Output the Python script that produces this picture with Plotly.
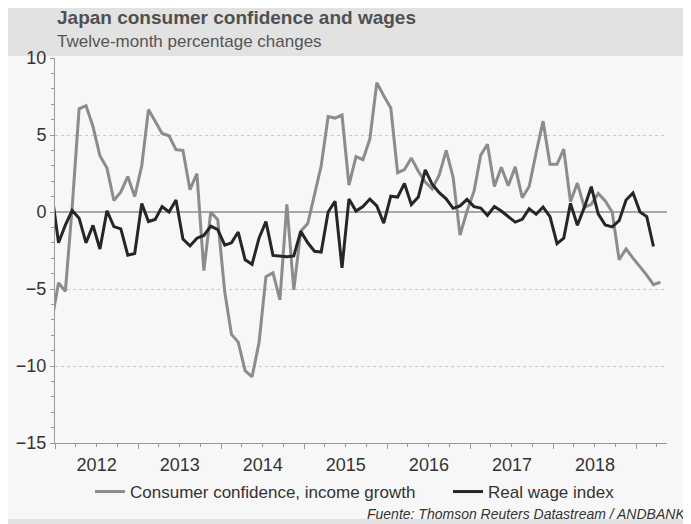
import pandas as pd
import plotly.graph_objects as go

# ---- data (monthly, Dec 2011 .. Apr 2019) ----
months = pd.date_range("2011-12-01", periods=89, freq="MS")

consumer_confidence = [
    -7.2, -4.6, -5.15, 0.3, 6.7, 6.9, 5.55, 3.65, 2.85, 0.75, 1.3, 2.3, 1.0,
    3.0, 6.65, 5.85, 5.1, 4.95, 4.05, 4.0, 1.45, 2.5, -3.8, 0.0, -0.5, -5.2,
    -7.95, -8.45, -10.3, -10.7, -8.5, -4.2, -3.95, -5.7, 0.5, -5.05, -1.25, -0.75,
    1.05, 3.0, 6.2, 6.1, 6.3, 1.75, 3.6, 3.4, 4.75, 8.4, 7.55, 6.75, 2.55,
    2.75, 3.5, 2.65, 1.95, 1.5, 2.4, 4.0, 2.25, -1.5, 0.05, 1.35, 3.7,
    4.4, 1.65, 2.9, 1.7, 2.93, 0.93, 1.66, 3.85, 5.9, 3.1, 3.1, 4.08,
    0.67, 1.88, 0.3, 0.5, 1.2, 0.72, 0.0, -3.1, -2.4, -3.0, -3.54, -4.1,
    -4.72, -4.55,
]

real_wage = [
    1.4, -2.0, -0.85, 0.1, -0.4, -2.0, -0.87, -2.4, 0.08, -0.95, -1.1, -2.8, -2.7,
    0.55, -0.62, -0.48, 0.35, 0.0, 0.78, -1.76, -2.2, -1.7, -1.52, -0.92, -1.15, -2.15,
    -2.0, -1.3, -3.1, -3.4, -1.7, -0.62, -2.82, -2.85, -2.9, -2.85, -1.26, -2.0,
    -2.55, -2.6, 0.0, 0.7, -3.62, 0.84, 0.06, 0.35, 0.84, 0.4, -0.72, 1.03, 0.97,
    1.85, 0.48, 0.97, 2.73, 1.8, 1.25, 0.86, 0.24, 0.4, 0.82, 0.35, 0.26,
    -0.22, 0.35, 0.06, -0.28, -0.66, -0.48, 0.22, -0.15, 0.32, -0.3, -2.05, -1.7,
    0.56, -0.86, 0.3, 1.64, -0.12, -0.84, -0.97, -0.56, 0.78, 1.23, 0.0, -0.3,
    -2.24,
]

series_names = ["Consumer confidence, income growth", "Real wage index"]
y_ticks = [10, 5, 0, -5, -10, -15]

title_text = "Japan consumer confidence and wages"
subtitle_text = "Twelve-month percentage changes"
source_text = "Fuente: Thomson Reuters Datastream / ANDBANK"

FONT = "Liberation Sans, Arial, sans-serif"
TXT = "#333333"

# the page body has an 8px margin, so the figure is drawn 8px in from the window corner
OFF = 8
W, H = 691 - OFF, 524 - OFF
# plot-area edges in window pixels
L, R, T, B = 55, 667, 58, 443
PW, PH = R - L, B - T


def px_x(x):
    return (x - L) / PW


def px_y(y):
    return (B - y) / PH


fig = go.Figure()
fig.add_trace(go.Scatter(
    x=months, y=consumer_confidence, name=series_names[0], mode="lines",
    line=dict(color="#8c8c8c", width=3),
    xperiod="M1", xperiodalignment="middle", legend="legend",
))
fig.add_trace(go.Scatter(
    x=months[:len(real_wage)], y=real_wage, name=series_names[1], mode="lines",
    line=dict(color="#262626", width=3),
    xperiod="M1", xperiodalignment="middle", legend="legend2",
))

legend_common = dict(
    orientation="h", xref="paper", yref="paper", xanchor="left",
    y=px_y(492), yanchor="middle",
    font=dict(size=17, color=TXT), bgcolor="rgba(0,0,0,0)",
)

fig.update_layout(
    width=W, height=H,
    margin=dict(l=L - OFF, r=(W + OFF) - R, t=T - OFF, b=(H + OFF) - B, autoexpand=False),
    paper_bgcolor="#f7f7f7", plot_bgcolor="#f7f7f7",
    font=dict(family=FONT, color=TXT, size=18),
    showlegend=True,
    legend=dict(x=px_x(90), **legend_common),
    legend2=dict(x=px_x(448), **legend_common),
    xaxis=dict(
        range=["2012-01-01", "2019-05-15"],
        dtick="M12", tick0="2012-01-01", tickformat="%Y",
        ticklabelmode="period",
        ticks="outside", ticklen=5, tickcolor="#999999",
        minor=dict(dtick="M3", ticks="outside", ticklen=3, tickcolor="#999999"),
        showline=True, linecolor="#999999", linewidth=1,
        showgrid=False, zeroline=False, automargin=False,
        tickfont=dict(size=18, color=TXT),
    ),
    yaxis=dict(
        range=[-15, 10], tickvals=y_ticks,
        ticks="outside", ticklen=4, tickcolor="#999999",
        minor=dict(dtick=1, ticks="outside", ticklen=3, tickcolor="#999999", showgrid=False),
        showline=True, linecolor="#999999", linewidth=1,
        showgrid=True, gridcolor="#c8c8c8", griddash="dot", gridwidth=1,
        zeroline=True, zerolinecolor="#a8a8a8", zerolinewidth=1.5,
        automargin=False,
        tickfont=dict(size=18, color=TXT),
    ),
)

# header band and footer band
fig.add_shape(type="rect", xref="paper", yref="paper",
              x0=px_x(-10), x1=px_x(720), y0=px_y(56), y1=px_y(-10),
              fillcolor="#e2e2e2", line_width=0, layer="below")
fig.add_shape(type="rect", xref="paper", yref="paper",
              x0=px_x(-10), x1=px_x(720), y0=px_y(540), y1=px_y(519),
              fillcolor="#e2e2e2", line_width=0, layer="below")

fig.add_annotation(text="<b>" + title_text + "</b>", xref="paper", yref="paper",
                   x=0, y=px_y(17), xanchor="left", yanchor="middle",
                   showarrow=False, font=dict(size=19, color="#505050", family=FONT))
fig.add_annotation(text=subtitle_text, xref="paper", yref="paper",
                   x=0, y=px_y(41), xanchor="left", yanchor="middle",
                   showarrow=False, font=dict(size=17, color="#555555", family=FONT))
fig.add_annotation(text="<i>" + source_text + "</i>", xref="paper", yref="paper",
                   x=px_x(687), y=px_y(514), xanchor="right", yanchor="middle",
                   showarrow=False, font=dict(size=14, color=TXT, family=FONT))

fig.write_html("out.html")
